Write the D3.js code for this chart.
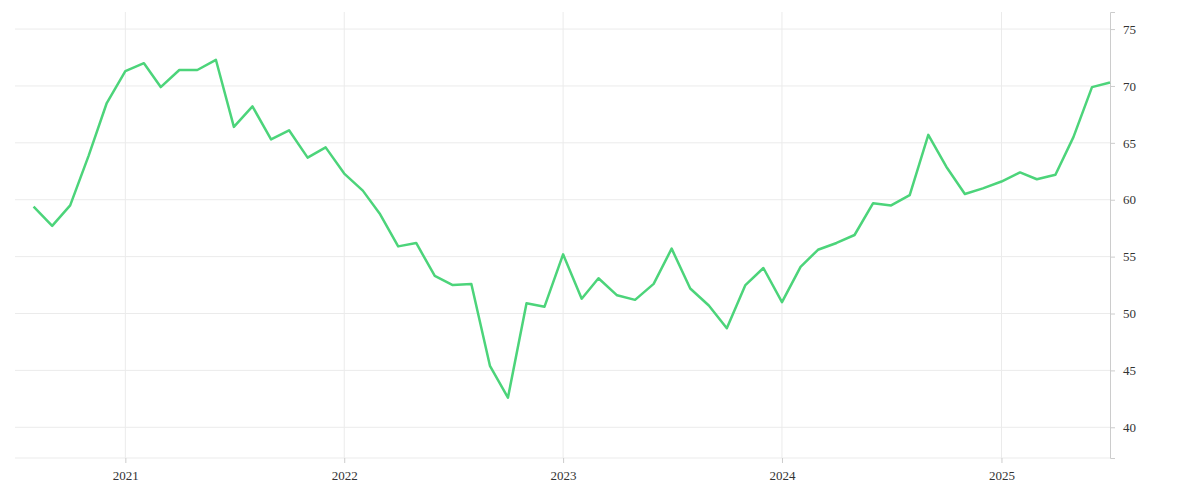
<!DOCTYPE html>
<html lang="en">
<head>
<meta charset="UTF-8">
<script src="https://d3js.org/d3.v7.min.js"></script>
<style>body{margin:0;background:#fff}</style>
</head>
<body>
<div id="viz"></div>
<script>
const startMonth = "2020-08"
const values = [59.4, 57.7, 59.5, 63.9, 68.5, 71.3, 72.0, 69.9, 71.4, 71.4, 72.3, 66.4,
  68.2, 65.3, 66.1, 63.7, 64.6, 62.3, 60.8, 58.8, 55.9, 56.2, 53.3, 52.5,
  52.6, 45.4, 42.6, 50.9, 50.6, 55.2, 51.3, 53.1, 51.6, 51.2, 52.6, 55.7,
  52.2, 50.7, 48.7, 52.5, 54.0, 51.0, 54.1, 55.6, 56.2, 56.9, 59.7, 59.5,
  60.4, 65.7, 62.9, 60.5, 61.0, 61.6, 62.4, 61.8, 62.2, 65.5, 69.9, 70.3]
const yTicks = [40, 45, 50, 55, 60, 65, 70, 75]
const xTicks = ["2021", "2022", "2023", "2024", "2025"]

const parse = d3.timeParse("%Y-%m")
const t0 = parse(startMonth)
const data = values.map((v, i) => ({ date: d3.timeMonth.offset(t0, i), value: v }))

const W = 1200, H = 500
const m = { top: 12, right: 90, bottom: 42, left: 15 }

const svg = d3.select("#viz").append("svg").attr("width", W).attr("height", H)

const x = d3.scaleTime()
  .domain([d3.timeMonth.offset(t0, -0.85), d3.timeMonth.offset(t0, 59.25)])
  .range([m.left, W - m.right])
const y = d3.scaleLinear().domain([37.3, 76.5]).range([H - m.bottom, m.top])

// gridlines
svg.append("g").selectAll("line").data(yTicks.concat([37.3])).join("line")
  .attr("x1", m.left).attr("x2", W - m.right)
  .attr("y1", d => y(d)).attr("y2", d => y(d))
  .attr("stroke", "#ebebeb")
svg.append("g").selectAll("line").data(xTicks).join("line")
  .attr("x1", d => x(parse(d + "-01"))).attr("x2", d => x(parse(d + "-01")))
  .attr("y1", m.top).attr("y2", H - m.bottom)
  .attr("stroke", "#ebebeb")

// right axis
const ya = svg.append("g")
  .attr("transform", `translate(${W - m.right},0)`)
  .call(d3.axisRight(y).tickValues(yTicks).tickSize(5).tickPadding(8))
ya.select(".domain").attr("stroke", "#ccc")
ya.selectAll(".tick line").attr("stroke", "#ccc")
ya.selectAll("text").attr("font-family", "Liberation Serif").attr("font-size", 13).attr("fill", "#333")

// bottom axis
const xa = svg.append("g")
  .attr("transform", `translate(0,${H - m.bottom})`)
  .call(d3.axisBottom(x).tickValues(xTicks.map(d => parse(d + "-01"))).tickFormat(d3.timeFormat("%Y")).tickSize(5).tickPadding(8))
xa.select(".domain").remove()
xa.selectAll(".tick line").attr("stroke", "#ccc")
xa.selectAll("text").attr("font-family", "Liberation Serif").attr("font-size", 13).attr("fill", "#333")

svg.append("path").datum(data)
  .attr("fill", "none")
  .attr("stroke", "#4cd47a")
  .attr("stroke-width", 2.5)
  .attr("stroke-linejoin", "round")
  .attr("d", d3.line().x(d => x(d.date)).y(d => y(d.value)))
</script>
</body>
</html>
